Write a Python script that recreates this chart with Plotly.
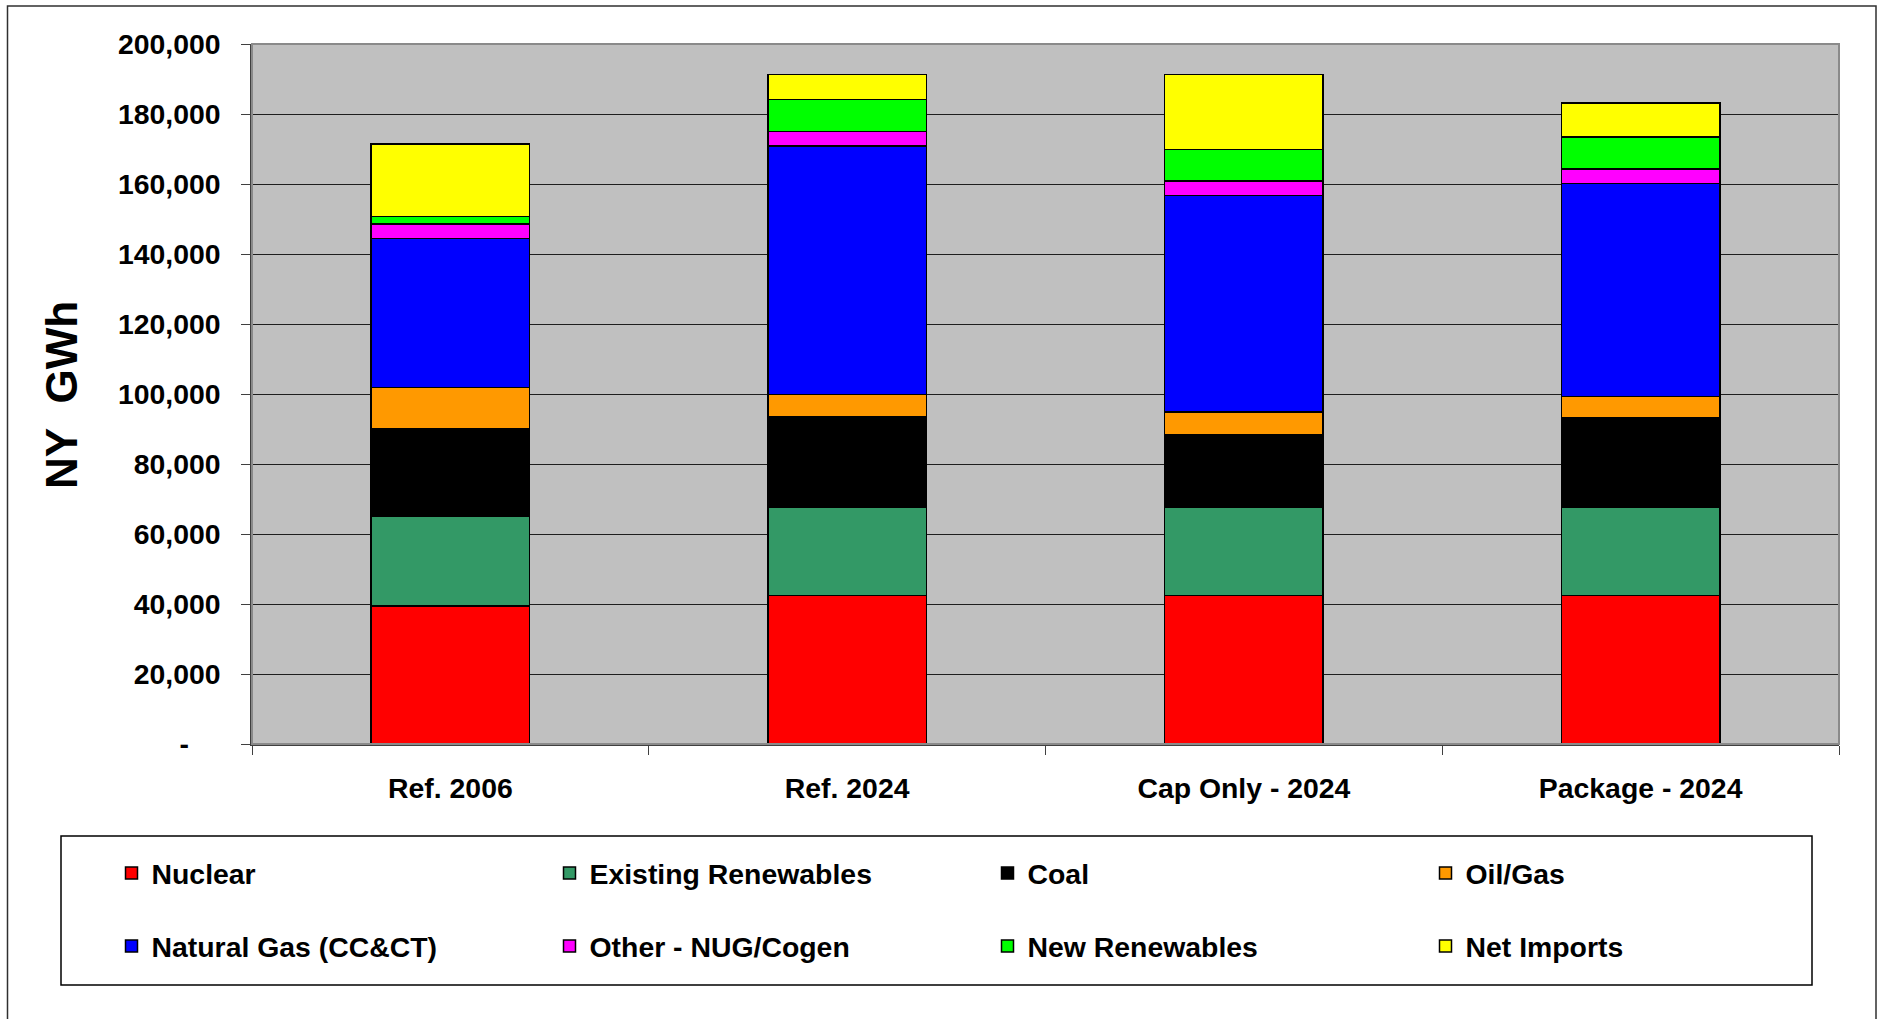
import plotly.graph_objects as go

# ---- data (GWh) ----
categories = ["Ref. 2006", "Ref. 2024", "Cap Only - 2024", "Package - 2024"]
nuclear = [39500, 42400, 42400, 42400]
existing_renewables = [25700, 25300, 25300, 25300]
coal = [24800, 25900, 20800, 25400]
oil_gas = [11900, 6300, 6300, 6200]
natural_gas = [42600, 71000, 61900, 60900]
other_nug_cogen = [4100, 4100, 4100, 4100]
new_renewables = [2100, 9100, 9100, 9200]
net_imports = [20700, 7200, 21400, 9700]

series_names = ["Nuclear", "Existing Renewables", "Coal", "Oil/Gas",
                "Natural Gas (CC&CT)", "Other - NUG/Cogen", "New Renewables", "Net Imports"]
series_values = [nuclear, existing_renewables, coal, oil_gas,
                 natural_gas, other_nug_cogen, new_renewables, net_imports]
series_colors = ["#FF0000", "#339966", "#000000", "#FF9900",
                 "#0000FF", "#FF00FF", "#00FF00", "#FFFF00"]

y_tick_values = [0, 20000, 40000, 60000, 80000, 100000, 120000, 140000, 160000, 180000, 200000]
y_tick_labels = ["-\u00a0\u00a0\u00a0\u00a0", "20,000", "40,000", "60,000", "80,000", "100,000",
                 "120,000", "140,000", "160,000", "180,000", "200,000"]

FONT = "Liberation Sans, Arial, sans-serif"
FS = 28.4

W, H = 1883, 1019
L, R, T, B = 252, 1839, 44, 744
pw, ph = R - L, B - T


def px(x):
    return (x - L) / pw


def py(y):
    return (B - y) / ph


fig = go.Figure()
for i, (name, vals, col) in enumerate(zip(series_names, series_values, series_colors)):
    fig.add_trace(go.Bar(
        x=categories, y=vals, name=name,
        marker=dict(color=col, line=dict(color="#000000", width=1.5)),
        legend="legend" if i < 4 else "legend2",
    ))

legend_common = dict(
    orientation="h", xanchor="left", yanchor="middle",
    entrywidth=393, entrywidthmode="pixels",
    font=dict(family=FONT, size=FS, color="#000000", weight="bold"),
    bgcolor="rgba(0,0,0,0)", borderwidth=0, traceorder="normal",
)

fig.update_layout(
    width=W, height=H,
    margin=dict(l=L, r=W - R, t=T, b=H - B, autoexpand=False),
    paper_bgcolor="#FFFFFF", plot_bgcolor="#C0C0C0",
    barmode="stack", bargap=0.6,
    font=dict(family=FONT, size=FS, color="#000000", weight="bold"),
    showlegend=True,
    legend=dict(x=px(111.5), y=py(873), **legend_common),
    legend2=dict(x=px(111.5), y=py(946), **legend_common),
    xaxis=dict(
        showgrid=False, showline=True, linecolor="#404040", linewidth=1.5,
        ticks="outside", tickson="boundaries", ticklen=9, tickcolor="#404040",
        tickfont=dict(family=FONT, size=FS, color="#000000", weight="bold"),
        ticklabelstandoff=18,
    ),
    yaxis=dict(
        range=[0, 200000], tickvals=y_tick_values, ticktext=y_tick_labels,
        showgrid=True, gridcolor="#1e1e1e", gridwidth=1,
        showline=True, linecolor="#404040", linewidth=1.5,
        ticks="outside", ticklen=9, tickcolor="#404040",
        tickfont=dict(family=FONT, size=FS, color="#000000", weight="bold"),
        ticklabelstandoff=15, zeroline=False,
    ),
    shapes=[
        # plot-area border (top/right grey)
        dict(type="rect", xref="paper", yref="paper", x0=0, x1=1, y0=0, y1=1,
             line=dict(color="#8a8a8a", width=2), layer="above"),
        # outer chart border
        dict(type="rect", xref="paper", yref="paper", x0=px(7.5), x1=px(1876), y0=py(1035), y1=py(6),
             line=dict(color="#303030", width=1.5), layer="above"),
        # legend box
        dict(type="rect", xref="paper", yref="paper", x0=px(61), x1=px(1812), y0=py(985), y1=py(836),
             line=dict(color="#000000", width=1.5), layer="above"),
    ],
    annotations=[
        dict(text="NY\u00a0\u00a0GWh", textangle=-90, xref="paper", yref="paper",
             x=px(61), y=py(395), xanchor="center", yanchor="middle", showarrow=False,
             font=dict(family=FONT, size=44, color="#000000", weight="bold")),
    ],
)

fig.write_html("out.html", config={"displayModeBar": False},
               post_script="document.body.style.margin='0';")
